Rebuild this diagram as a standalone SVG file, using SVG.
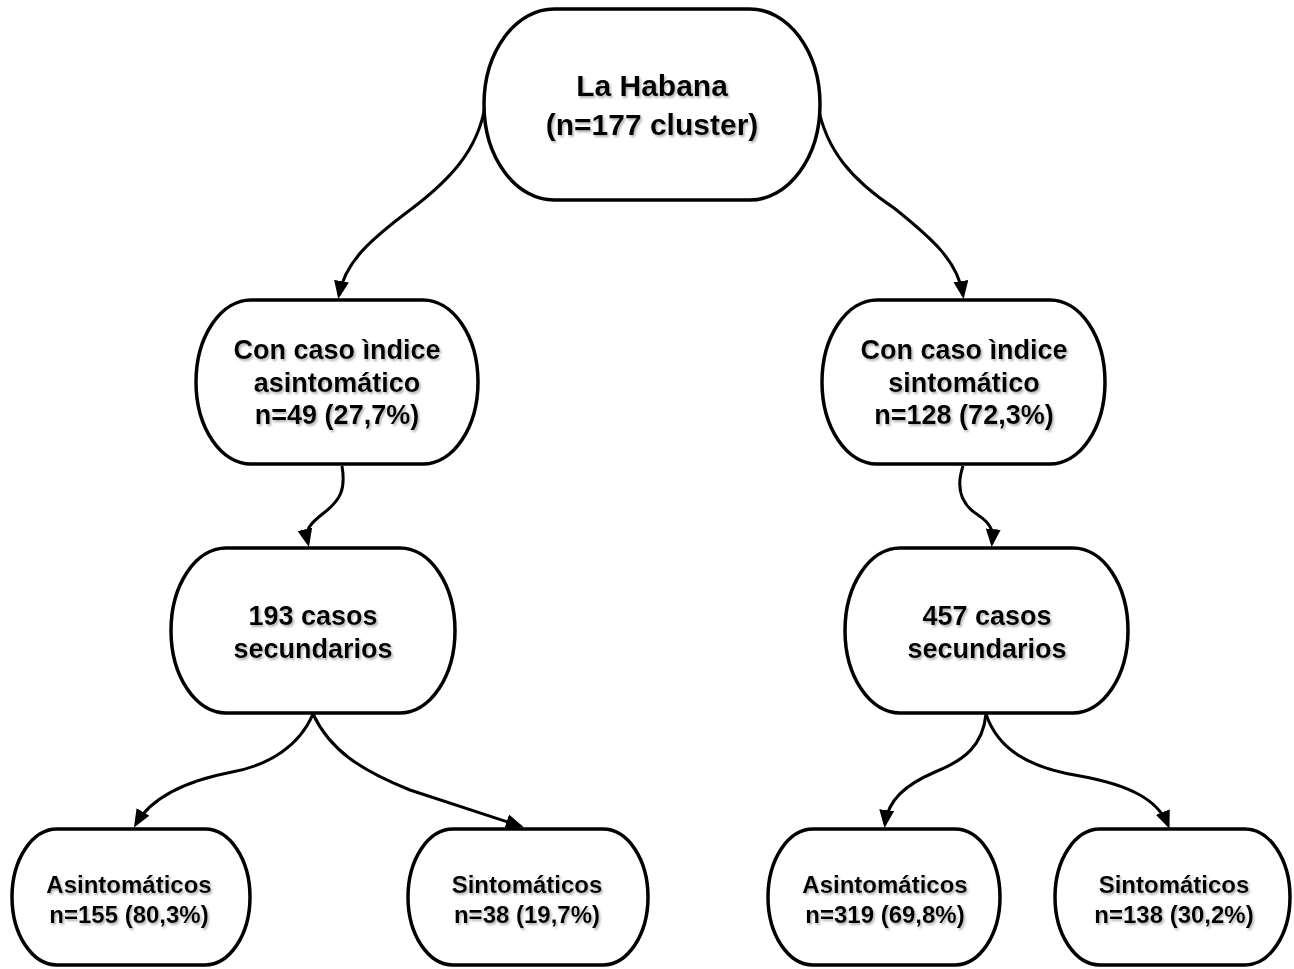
<svg xmlns="http://www.w3.org/2000/svg" width="1294" height="969" viewBox="0 0 1294 969">
  <defs>
    <style>
      .node { fill: #ffffff; stroke: #000000; stroke-width: 3.5; }
      .edge { fill: none; stroke: #000000; stroke-width: 3; marker-end: url(#arrow); }
      .lbl { font-family: "Liberation Sans", Arial, sans-serif; font-weight: bold; fill: #000000; text-anchor: middle; filter: url(#txtShadow); }
      .f30 { font-size: 30px; }
      .f27 { font-size: 27px; }
      .f24 { font-size: 24px; }
    </style>
    <filter id="txtShadow" x="-10%" y="-20%" width="120%" height="160%">
      <feDropShadow dx="1.5" dy="2" stdDeviation="1.3" flood-color="#7f7f7f" flood-opacity="0.6"/>
    </filter>
    <marker id="arrow" markerUnits="userSpaceOnUse" markerWidth="20" markerHeight="16" refX="14" refY="7.5" orient="auto">
      <path d="M0,0 L18,7.5 L0,15 Z" fill="#000000"/>
    </marker>
  </defs>

  <rect width="1294" height="969" fill="#ffffff"/>

  <!-- connectors -->
  <g id="connectors">
    <path class="edge" d="M485,106 C478,150 450,180 410,210 C370,240 345,262 339,295"/>
    <path class="edge" d="M818,106 C826,150 852,180 894,208 C934,240 958,262 963,295"/>
    <path class="edge" d="M342,466 C346,490 340,500 325,512 C308,525 305,530 308,543"/>
    <path class="edge" d="M963,466 C955,490 962,505 978,515 C993,525 993,532 992,543"/>
    <path class="edge" d="M313,714 C300,745 270,765 232,772 C180,782 150,800 136,824"/>
    <path class="edge" d="M313,714 C330,750 360,770 410,790 L520,826"/>
    <path class="edge" d="M986,714 C983,745 965,760 935,772 C905,785 888,800 885,824"/>
    <path class="edge" d="M986,714 C998,750 1030,768 1080,776 C1130,785 1158,800 1168,825"/>
  </g>

  <!-- root -->
  <g id="node-habana">
    <rect class="node" x="484" y="9" width="336" height="191" rx="70" ry="95.5"/>
    <text class="lbl f30" x="652" y="96">La Habana</text>
    <text class="lbl f30" x="652" y="135">(n=177 cluster)</text>
  </g>

  <!-- index-case groups -->
  <g id="node-indice-asint">
    <rect class="node" x="196" y="300" width="282" height="164" rx="55" ry="82"/>
    <text class="lbl f27" x="337" y="359">Con caso ìndice</text>
    <text class="lbl f27" x="337" y="392">asintomático</text>
    <text class="lbl f27" x="337" y="424">n=49 (27,7%)</text>
  </g>
  <g id="node-indice-sint">
    <rect class="node" x="822" y="300" width="283" height="164" rx="55" ry="82"/>
    <text class="lbl f27" x="964" y="359">Con caso ìndice</text>
    <text class="lbl f27" x="964" y="392">sintomático</text>
    <text class="lbl f27" x="964" y="424">n=128 (72,3%)</text>
  </g>

  <!-- secondary cases -->
  <g id="node-sec-193">
    <rect class="node" x="171" y="548" width="284" height="165" rx="55" ry="82.5"/>
    <text class="lbl f27" x="313" y="625">193 casos</text>
    <text class="lbl f27" x="313" y="658">secundarios</text>
  </g>
  <g id="node-sec-457">
    <rect class="node" x="845" y="548" width="283" height="165" rx="55" ry="82.5"/>
    <text class="lbl f27" x="987" y="625">457 casos</text>
    <text class="lbl f27" x="987" y="658">secundarios</text>
  </g>

  <!-- outcome leaves -->
  <g id="node-asint-155">
    <rect class="node" x="12" y="829" width="238" height="136" rx="45" ry="68"/>
    <text class="lbl f24" x="129" y="893">Asintomáticos</text>
    <text class="lbl f24" x="129" y="923">n=155 (80,3%)</text>
  </g>
  <g id="node-sint-38">
    <rect class="node" x="408" y="829" width="240" height="136" rx="45" ry="68"/>
    <text class="lbl f24" x="527" y="893">Sintomáticos</text>
    <text class="lbl f24" x="527" y="923">n=38 (19,7%)</text>
  </g>
  <g id="node-asint-319">
    <rect class="node" x="768" y="829" width="232" height="136" rx="45" ry="68"/>
    <text class="lbl f24" x="885" y="893">Asintomáticos</text>
    <text class="lbl f24" x="885" y="923">n=319 (69,8%)</text>
  </g>
  <g id="node-sint-138">
    <rect class="node" x="1055" y="829" width="235" height="136" rx="45" ry="68"/>
    <text class="lbl f24" x="1174" y="893">Sintomáticos</text>
    <text class="lbl f24" x="1174" y="923">n=138 (30,2%)</text>
  </g>
</svg>
